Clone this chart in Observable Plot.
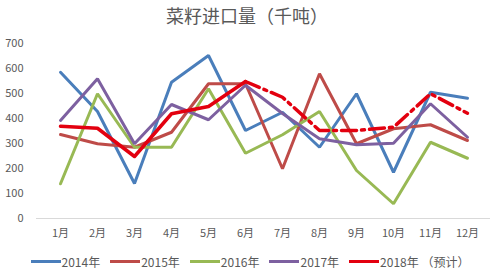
<!DOCTYPE html>
<html>
<head>
<meta charset="utf-8">
<script src="https://cdn.jsdelivr.net/npm/d3@7"></script>
<script src="https://cdn.jsdelivr.net/npm/@observablehq/plot@0.6"></script>
<style>
  html, body { margin: 0; padding: 0; background: #fff; }
  body { width: 500px; height: 272px; overflow: hidden; font-family: "Noto Sans CJK SC", "Noto Sans", sans-serif; }
  #title { height: 30px; line-height: 30px; text-align: center; font-size: 18px; color: #595959; padding-right: 6px; }
  #chart { height: 220px; }
  #legend { height: 22px; display: flex; justify-content: center; align-items: center; gap: 10px; font-size: 12px; color: #595959; }
  .item { display: flex; align-items: center; }
  .sw { display: inline-block; width: 30px; height: 3px; margin-right: 1px; }
</style>
</head>
<body>
<div id="title">菜籽进口量（千吨）</div>
<div id="chart"></div>
<div id="legend"></div>
<script>
const months = ["1月","2月","3月","4月","5月","6月","7月","8月","9月","10月","11月","12月"];
const seriesNames = ["2014年","2015年","2016年","2017年","2018年 （预计）"];
const seriesColors = ["#4a7ebb","#be4b48","#98b954","#7d60a0","#e3000f"];
const s2014 = [585, 428, 140, 545, 652, 352, 425, 285, 499, 185, 505, 481];
const s2015 = [336, 299, 285, 345, 539, 539, 199, 579, 299, 359, 375, 312];
const s2016 = [139, 499, 285, 285, 519, 261, 335, 428, 192, 59, 305, 241];
const s2017 = [392, 559, 299, 456, 395, 533, 420, 319, 295, 301, 459, 325];
const s2018 = [369, 361, 248, 419, 448, 548, 485, 352, 352, 365, 499, 421];
const actualMonths2018 = 6; // 1–6月 actual, rest forecast
const yTicks = [0, 100, 200, 300, 400, 500, 600, 700];

const allSeries = [s2014, s2015, s2016, s2017, s2018];
const rows = [];
allSeries.forEach((vals, si) => {
  vals.forEach((v, i) => rows.push({series: seriesNames[si], month: months[i], idx: i, value: v}));
});
const r2018 = rows.filter(d => d.series === seriesNames[4]);
const solid2018 = r2018.filter(d => d.idx < actualMonths2018);
const dash2018 = r2018.filter(d => d.idx >= actualMonths2018 - 1);

const plot = Plot.plot({
  width: 500,
  height: 220,
  marginTop: 13,
  marginBottom: 32,
  marginLeft: 36,
  marginRight: 10,
  style: {fontFamily: "'Noto Sans CJK SC', 'Noto Sans', sans-serif", fontSize: "11px", color: "#595959", background: "white"},
  x: {type: "point", domain: months, padding: 0.48, label: null},
  y: {domain: [0, 700], label: null},
  color: {domain: seriesNames, range: seriesColors},
  marks: [
    Plot.axisY({ticks: yTicks, tickSize: 0, tickPadding: 13, label: null, fontSize: 11}),
    Plot.axisX({tickSize: 0, tickPadding: 11, label: null, fontSize: 11}),
    Plot.ruleY([0], {stroke: "#d9d9d9", strokeWidth: 1}),
    Plot.line(rows.filter(d => d.series !== seriesNames[4]), {x: "month", y: "value", z: "series", stroke: "series", strokeWidth: 3, strokeLinejoin: "miter"}),
    Plot.line(solid2018, {x: "month", y: "value", stroke: "series", strokeWidth: 3.5, strokeLinejoin: "round"}),
    Plot.line(dash2018, {x: "month", y: "value", stroke: "series", strokeWidth: 3.5, strokeDasharray: "15,5,3,5"})
  ]
});
document.getElementById("chart").appendChild(plot);

const legend = document.getElementById("legend");
seriesNames.forEach((name, i) => {
  const item = document.createElement("span");
  item.className = "item";
  const sw = document.createElement("span");
  sw.className = "sw";
  sw.style.background = seriesColors[i];
  item.appendChild(sw);
  item.appendChild(document.createTextNode(name));
  legend.appendChild(item);
});
</script>
</body>
</html>
